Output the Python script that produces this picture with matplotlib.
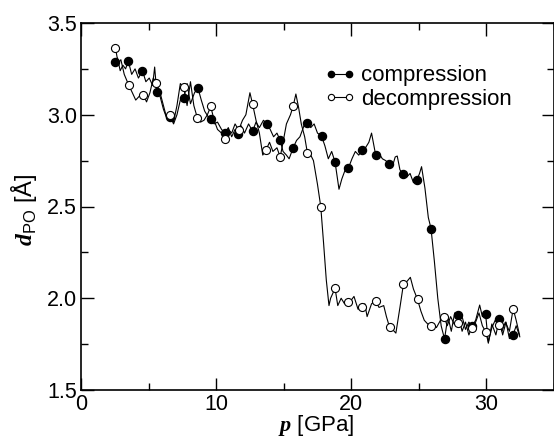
import matplotlib
matplotlib.use("Agg")
import matplotlib.pyplot as plt
from matplotlib.ticker import MultipleLocator

plt.rcParams['font.family'] = ['Liberation Sans', 'DejaVu Sans']
plt.rcParams['mathtext.fontset'] = 'custom'
plt.rcParams['mathtext.rm'] = 'Liberation Sans'
plt.rcParams['mathtext.bfit'] = 'Liberation Serif:italic:bold'

# compression run: pressure [GPa] vs P-O distance [A]
comp_p = [2.5, 2.7, 2.9, 3.1, 3.3, 3.5, 3.75, 4.0, 4.25, 4.55, 4.8, 5.05, 5.3, 5.45, 5.6,
          5.85, 6.1, 6.35, 6.6, 6.85, 7.1, 7.35, 7.6, 7.85, 8.1, 8.4, 8.65, 8.9, 9.15, 9.4,
          9.6, 9.85, 10.1, 10.4, 10.66, 10.9, 11.15, 11.4, 11.6, 11.85, 12.1, 12.4, 12.7,
          12.95, 13.2, 13.5, 13.75, 14.0, 14.25, 14.5, 14.74, 14.95, 15.2, 15.4, 15.7,
          15.95, 16.2, 16.5, 16.75, 17.0, 17.25, 17.5, 17.8, 18.05, 18.3, 18.55, 18.8,
          19.09, 19.3, 19.55, 19.78, 20.05, 20.3, 20.55, 20.8, 21.05, 21.3, 21.5, 21.8,
          22.05, 22.3, 22.55, 22.8, 23.05, 23.25, 23.4, 23.6, 23.85, 24.1, 24.35, 24.6,
          24.86, 25.05, 25.2, 25.45, 25.7, 25.9, 26.15, 26.4, 26.65, 26.9, 27.15, 27.4,
          27.65, 27.93, 28.2, 28.45, 28.7, 28.96, 29.2, 29.5, 29.7, 29.94, 30.14, 30.4,
          30.7, 30.95, 31.2, 31.45, 31.7, 31.98, 32.2, 32.47]
comp_d = [3.285, 3.31, 3.24, 3.27, 3.25, 3.293, 3.22, 3.25, 3.2, 3.24, 3.18, 3.2, 3.16, 3.26, 3.126,
          3.1, 3.03, 2.98, 2.99, 2.95, 3.0, 3.08, 3.09, 3.17, 3.06, 3.12, 3.147, 3.08, 3.02, 2.99,
          2.975, 2.95, 2.96, 2.92, 2.9, 2.93, 2.88, 2.92, 2.895, 2.94, 2.9, 2.95, 2.91,
          2.96, 2.93, 2.97, 2.95, 2.92, 2.88, 2.9, 2.86, 2.8, 2.78, 2.76, 2.82,
          2.86, 2.88, 2.94, 2.957, 2.93, 2.95, 2.9, 2.884, 2.83, 2.76, 2.8, 2.742,
          2.594, 2.65, 2.7, 2.708, 2.76, 2.8, 2.78, 2.806, 2.82, 2.85, 2.9, 2.782,
          2.79, 2.76, 2.75, 2.731, 2.72, 2.77, 2.775, 2.7, 2.677, 2.66, 2.68, 2.63,
          2.645, 2.68, 2.717, 2.6, 2.44, 2.38, 2.2, 2.0, 1.85, 1.778, 1.9, 1.82,
          1.92, 1.908, 1.82, 1.87, 1.8, 1.85, 1.88, 1.963, 1.9, 1.914, 1.755, 1.86,
          1.8, 1.886, 1.8, 1.87, 1.78, 1.801, 1.85, 1.79]
comp_mark_p = [2.5, 3.5, 4.55, 5.6, 6.6, 7.6, 8.65, 9.6, 10.66, 11.6, 12.7, 13.75, 14.74, 15.7,
               16.75, 17.8, 18.8, 19.78, 20.8, 21.8, 22.8, 23.85, 24.86, 25.9, 26.9, 27.93,
               28.96, 29.94, 30.95, 31.98]
comp_mark_d = [3.285, 3.293, 3.24, 3.126, 2.99, 3.09, 3.147, 2.975, 2.9, 2.895, 2.91, 2.95, 2.86, 2.82,
               2.957, 2.884, 2.742, 2.708, 2.806, 2.782, 2.731, 2.677, 2.645, 2.38, 1.778, 1.908,
               1.85, 1.914, 1.886, 1.801]

# decompression run
dec_p = [2.55, 2.75, 2.95, 3.2, 3.54, 3.8, 4.05, 4.3, 4.6, 4.85, 5.1, 5.35, 5.58, 5.85, 6.1,
         6.35, 6.6, 6.85, 7.1, 7.35, 7.6, 7.85, 8.1, 8.35, 8.6, 8.85, 9.1, 9.35, 9.6, 9.85,
         10.1, 10.4, 10.66, 10.9, 11.15, 11.4, 11.67, 11.95, 12.2, 12.5, 12.7, 12.95, 13.2,
         13.45, 13.7, 13.95, 14.2, 14.5, 14.74, 14.95, 15.2, 15.5, 15.7, 15.9, 16.1, 16.3,
         16.55, 16.75, 17.0, 17.2, 17.5, 17.74, 17.95, 18.15, 18.35, 18.47, 18.8, 19.0,
         19.25, 19.5, 19.78, 20.0, 20.2, 20.5, 20.82, 21.0, 21.17, 21.5, 21.8, 22.05, 22.4,
         22.6, 22.83, 23.05, 23.3, 23.6, 23.86, 24.1, 24.37, 24.6, 24.9, 25.15, 25.4, 25.65,
         25.9, 26.1, 26.3, 26.6, 26.87, 27.1, 27.35, 27.6, 27.93, 28.2, 28.45, 28.7, 28.96,
         29.2, 29.45, 29.7, 29.94, 30.14, 30.4, 30.65, 30.93, 31.15, 31.4, 31.7, 31.98,
         32.2, 32.45]
dec_d = [3.365, 3.28, 3.3, 3.22, 3.16, 3.12, 3.08, 3.1, 3.11, 3.07, 3.12, 3.2, 3.175, 3.12, 3.05,
         2.98, 3.0, 2.96, 3.05, 3.17, 3.15, 3.05, 3.18, 3.05, 2.985, 2.96, 2.97, 3.0, 3.045, 2.97,
         2.92, 2.9, 2.87, 2.92, 2.9, 2.95, 2.917, 2.97, 3.0, 3.12, 3.057, 2.97, 2.9,
         2.78, 2.81, 2.85, 2.8, 2.82, 2.77, 2.85, 2.95, 3.0, 3.047, 3.113, 3.04, 2.95,
         2.88, 2.793, 2.78, 2.75, 2.62, 2.5, 2.3, 2.1, 1.96, 2.0, 2.054, 1.96,
         2.0, 1.97, 1.978, 1.99, 2.01, 1.94, 1.955, 1.97, 1.9, 1.97, 1.986, 1.95, 1.96,
         1.9, 1.843, 1.83, 1.81, 1.95, 2.077, 2.09, 2.114, 2.05, 1.994, 1.93, 1.88, 1.86,
         1.849, 1.86, 1.84, 1.88, 1.898, 1.85, 1.9, 1.86, 1.864, 1.9, 1.83, 1.87, 1.84,
         1.87, 1.92, 1.85, 1.818, 1.76, 1.84, 1.88, 1.855, 1.82, 1.87, 1.82, 1.943,
         1.88, 1.8]
dec_mark_p = [2.55, 3.54, 4.6, 5.58, 6.6, 7.6, 8.6, 9.6, 10.66, 11.67, 12.7, 13.7, 14.74, 15.7,
              16.75, 17.74, 18.8, 19.78, 20.82, 21.8, 22.83, 23.86, 24.9, 25.9, 26.87, 27.93,
              28.96, 29.94, 30.93, 31.98]
dec_mark_d = [3.365, 3.16, 3.11, 3.175, 3.0, 3.15, 2.985, 3.045, 2.87, 2.917, 3.057, 2.81, 2.77, 3.047,
              2.793, 2.5, 2.054, 1.978, 1.955, 1.986, 1.843, 2.077, 1.994, 1.849, 1.898, 1.864,
              1.84, 1.818, 1.855, 1.943]

fig = plt.figure(figsize=(5.54, 4.37), dpi=100)
ax = fig.add_axes([81 / 554, 47 / 437, 473 / 554, 367 / 437])

ax.plot(comp_p, comp_d, color='black', lw=0.8, zorder=2)
ax.plot(dec_p, dec_d, color='black', lw=0.8, zorder=2)
ax.plot(comp_mark_p, comp_mark_d, ls='none', marker='o', ms=5.8, mfc='black', mec='black', zorder=3)
ax.plot(dec_mark_p, dec_mark_d, ls='none', marker='o', ms=5.8, mfc='white', mec='black', mew=0.8, zorder=3)

# legend handles
h1, = ax.plot([], [], color='black', lw=0.8, marker='o', ms=4.5, mfc='black', mec='black')
h2, = ax.plot([], [], color='black', lw=0.8, marker='o', ms=4.5, mfc='white', mec='black', mew=0.8)
ax.legend([h1, h2], ['compression', 'decompression'], loc='center left',
          bbox_to_anchor=(0.515, 0.824), frameon=False, numpoints=2, fontsize=16,
          handlelength=1.4, handletextpad=0.25, labelspacing=0.1, borderpad=0,
          borderaxespad=0)

ax.set_xlim(0, 35)
ax.set_ylim(1.5, 3.5)
ax.xaxis.set_major_locator(MultipleLocator(10))
ax.xaxis.set_minor_locator(MultipleLocator(5))
ax.yaxis.set_major_locator(MultipleLocator(0.5))
ax.yaxis.set_minor_locator(MultipleLocator(0.25))
ax.set_xticks([0, 10, 20, 30])
ax.set_xticklabels(['0', '10', '20', '30'])
ax.set_yticks([1.5, 2.0, 2.5, 3.0, 3.5])
ax.set_yticklabels(['1.5', '2.0', '2.5', '3.0', '3.5'])
ax.tick_params(which='both', direction='in', top=True, right=True, width=1, labelsize=15.5)
ax.tick_params(which='major', length=9, pad=3)
ax.tick_params(which='minor', length=5)
for s in ax.spines.values():
    s.set_linewidth(1.2)

ax.set_xlabel(r'$\mathbfit{p}$ [GPa]', fontsize=16)
ax.set_ylabel(r'$\mathbfit{d}_{\mathrm{PO}}$ [Å]', fontsize=17)
ax.xaxis.set_label_coords(0.497, -0.062)
ax.yaxis.set_label_coords(-0.088, 0.49)

fig.savefig('out.png', dpi=100)
